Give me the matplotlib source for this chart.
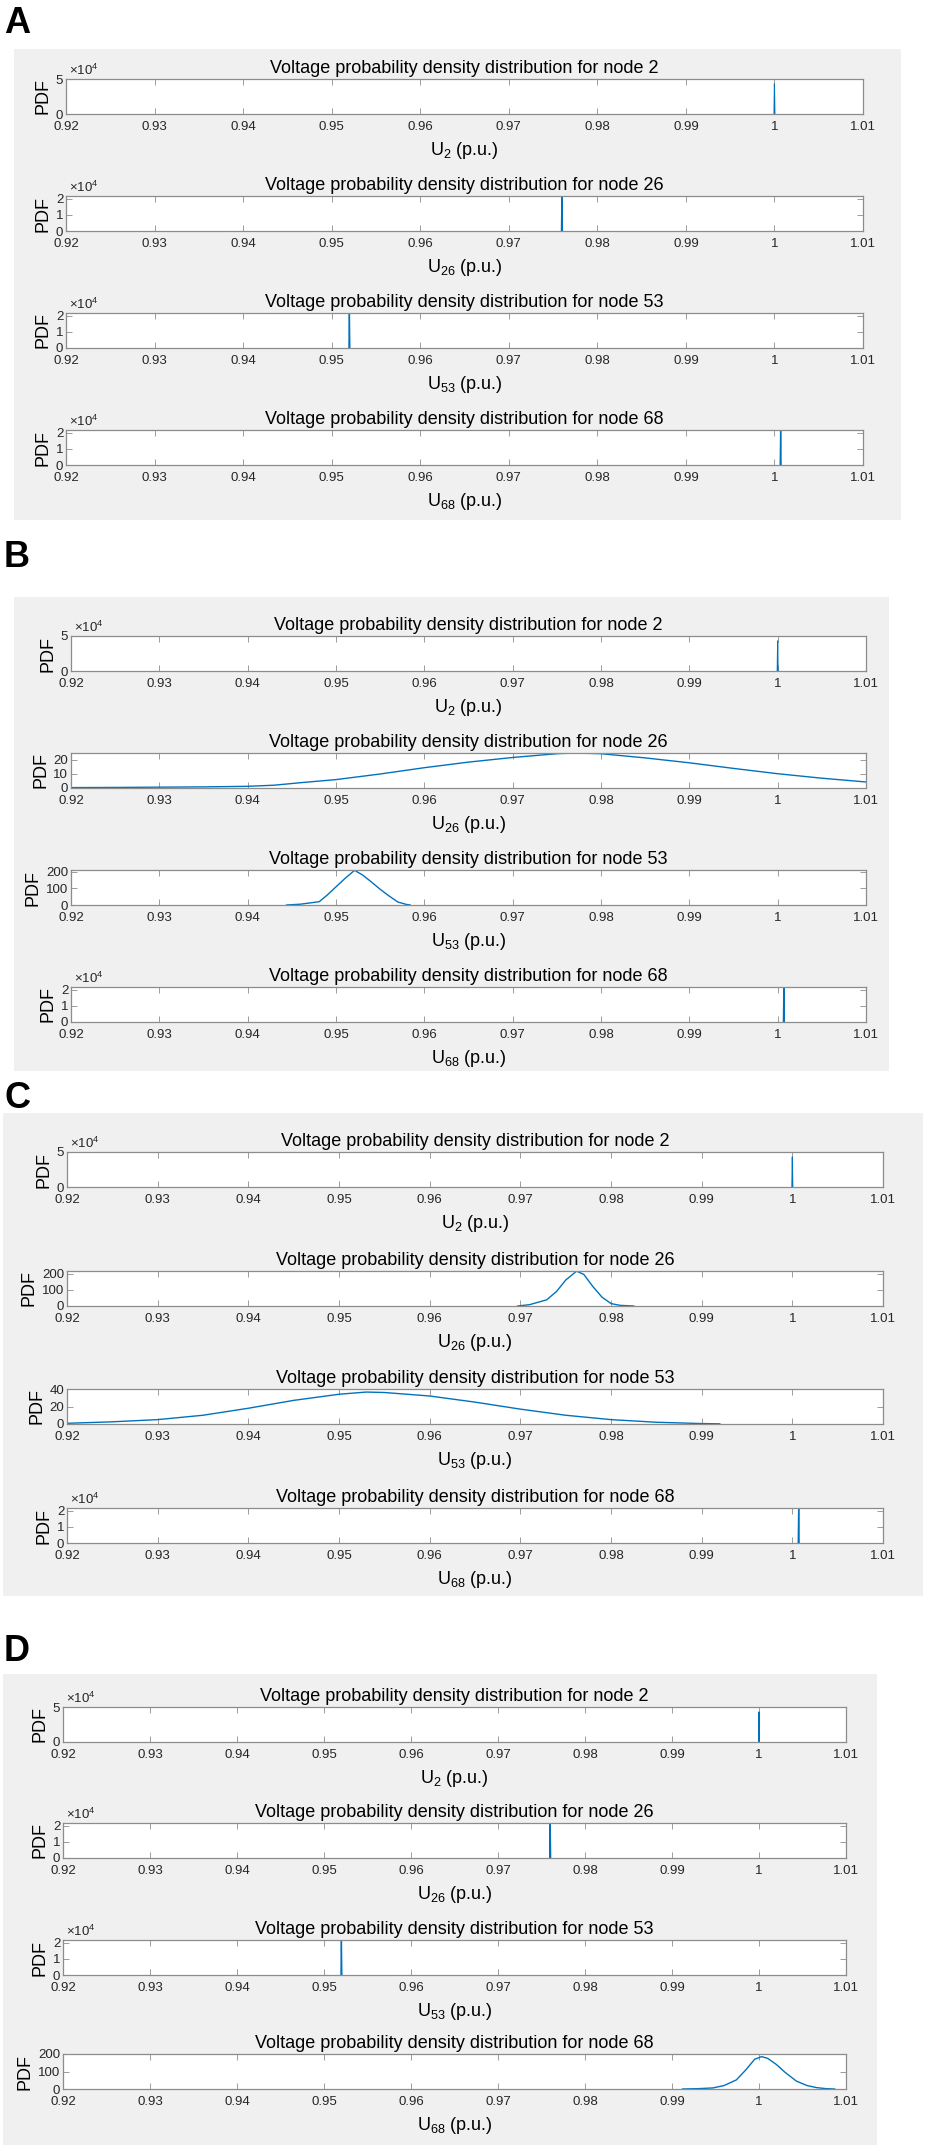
import matplotlib.pyplot as plt
from matplotlib.patches import Rectangle
from matplotlib.ticker import FuncFormatter

plt.rcParams['font.family'] = ['Liberation Sans', 'DejaVu Sans']
plt.rcParams['mathtext.fontset'] = 'custom'
plt.rcParams['mathtext.rm'] = 'Liberation Sans'
plt.rcParams['mathtext.default'] = 'regular'

# x axis
x_ticks = [0.92, 0.93, 0.94, 0.95, 0.96, 0.97, 0.98, 0.99, 1.0, 1.01]
x_tick_labels = ['0.92', '0.93', '0.94', '0.95', '0.96', '0.97', '0.98', '0.99', '1', '1.01']
nodes = [2, 26, 53, 68]

# ---- panel A : all nodes are spikes
a_n2_x = [0.99995, 1.0, 1.00005]
a_n2_y = [0, 43000, 0]
a_n26_x = [0.97595, 0.976, 0.97605]
a_n26_y = [0, 21700, 0]
a_n53_x = [0.95195, 0.952, 0.95205]
a_n53_y = [0, 21700, 0]
a_n68_x = [1.00065, 1.0007, 1.00075]
a_n68_y = [0, 21700, 0]
a_ylim = [50000, 21700, 21700, 21700]
a_yticks = [[0, 50000], [0, 10000, 20000], [0, 10000, 20000], [0, 10000, 20000]]

# ---- panel B : nodes 26 and 53 spread out
b_n2_x = [0.99995, 1.0, 1.00005]
b_n2_y = [0, 43000, 0]
b_n26_x = [0.92, 0.925, 0.93, 0.935, 0.94, 0.943, 0.946, 0.95, 0.955, 0.96, 0.965,
           0.97, 0.975, 0.977, 0.98, 0.985, 0.99, 0.995, 1.0, 1.005, 1.01]
b_n26_y = [0.3, 0.4, 0.6, 0.8, 1.2, 2.0, 3.8, 6.0, 10.0, 14.5, 18.5,
           21.8, 24.5, 25.0, 24.5, 21.5, 18.0, 14.0, 10.2, 7.0, 4.3]
b_n53_x = [0.9444, 0.946, 0.9481, 0.949, 0.950, 0.951, 0.9521, 0.953, 0.954,
           0.955, 0.956, 0.957, 0.958, 0.9584]
b_n53_y = [0, 5, 20, 60, 110, 160, 210, 182, 140, 95, 55, 18, 3, 0]
b_n68_x = [1.00065, 1.0007, 1.00075]
b_n68_y = [0, 21700, 0]
b_ylim = [50000, 25, 212, 21700]
b_yticks = [[0, 50000], [0, 10, 20], [0, 100, 200], [0, 10000, 20000]]

# ---- panel C : nodes 26 and 53 spread out
c_n2_x = [0.99995, 1.0, 1.00005]
c_n2_y = [0, 43000, 0]
c_n26_x = [0.9697, 0.971, 0.9729, 0.974, 0.975, 0.9762, 0.977, 0.978, 0.979,
           0.980, 0.981, 0.9825]
c_n26_y = [0, 8, 38, 90, 160, 215, 195, 120, 55, 15, 4, 0]
c_n53_x = [0.92, 0.925, 0.93, 0.935, 0.94, 0.945, 0.95, 0.953, 0.955, 0.96,
           0.965, 0.97, 0.975, 0.98, 0.985, 0.99, 0.992]
c_n53_y = [0.8, 2.5, 5, 10, 18, 27, 34, 36.5, 36, 32, 25, 17, 10, 5, 2, 0.5, 0.2]
c_n68_x = [1.00065, 1.0007, 1.00075]
c_n68_y = [0, 21700, 0]
c_ylim = [50000, 216, 40, 21700]
c_yticks = [[0, 50000], [0, 100, 200], [0, 20, 40], [0, 10000, 20000]]

# ---- panel D : node 68 spread out
d_n2_x = [0.99995, 1.0, 1.00005]
d_n2_y = [0, 43000, 0]
d_n26_x = [0.97595, 0.976, 0.97605]
d_n26_y = [0, 21700, 0]
d_n53_x = [0.95195, 0.952, 0.95205]
d_n53_y = [0, 21700, 0]
d_n68_x = [0.9912, 0.993, 0.9947, 0.996, 0.9974, 0.9985, 0.9995, 1.0003, 1.001,
           1.002, 1.003, 1.0043, 1.0055, 1.0066, 1.0077, 1.0087]
d_n68_y = [0, 2, 6, 20, 52, 110, 170, 185, 175, 140, 95, 45, 20, 8, 2, 0]
d_ylim = [50000, 21700, 21700, 200]
d_yticks = [[0, 50000], [0, 10000, 20000], [0, 10000, 20000], [0, 100, 200]]

W, H = 926, 2149
fig = plt.figure(figsize=(W / 100, H / 100), dpi=100)

line_color = '#0072BD'
spine_color = '#8c8c8c'


def px_rect(l, t, r, b):
    return [l / W, 1 - b / H, (r - l) / W, (b - t) / H]


# panel layout in pixels: letter, gray box, axes columns and axes tops
panels = [
    dict(letter='A', letter_y=33, box=(14, 49, 901, 520), left=66, right=863,
         tops=[79, 196, 313, 430],
         data=[(a_n2_x, a_n2_y), (a_n26_x, a_n26_y), (a_n53_x, a_n53_y), (a_n68_x, a_n68_y)],
         ylim=a_ylim, yticks=a_yticks),
    dict(letter='B', letter_y=567, box=(14, 597, 889, 1071), left=71, right=866,
         tops=[636, 753, 870, 987],
         data=[(b_n2_x, b_n2_y), (b_n26_x, b_n26_y), (b_n53_x, b_n53_y), (b_n68_x, b_n68_y)],
         ylim=b_ylim, yticks=b_yticks),
    dict(letter='C', letter_y=1108, box=(3, 1113, 923, 1596), left=67, right=883,
         tops=[1152, 1271, 1389, 1508],
         data=[(c_n2_x, c_n2_y), (c_n26_x, c_n26_y), (c_n53_x, c_n53_y), (c_n68_x, c_n68_y)],
         ylim=c_ylim, yticks=c_yticks),
    dict(letter='D', letter_y=1661, box=(3, 1674, 877, 2145), left=63, right=846,
         tops=[1707, 1823, 1940, 2054],
         data=[(d_n2_x, d_n2_y), (d_n26_x, d_n26_y), (d_n53_x, d_n53_y), (d_n68_x, d_n68_y)],
         ylim=d_ylim, yticks=d_yticks),
]

axes_h = 35

for p in panels:
    bl, bt, br, bb = p['box']
    fig.patches.append(Rectangle((bl / W, 1 - bb / H), (br - bl) / W, (bb - bt) / H,
                                 transform=fig.transFigure, facecolor='#f0f0f0',
                                 edgecolor='none', zorder=-10))
    fig.text(4 / W, 1 - p['letter_y'] / H, p['letter'], fontsize=26, fontweight='bold',
             va='baseline', ha='left')

    for i, node in enumerate(nodes):
        top = p['tops'][i]
        ax = fig.add_axes(px_rect(p['left'], top, p['right'], top + axes_h))
        ax.set_zorder(1)
        xs, ys = p['data'][i]
        # node 2 spike is drawn thinner, like the reference
        lw = 0.8 if node == 2 else 1.0
        ax.plot(xs, ys, color=line_color, linewidth=lw)
        ax.set_xlim(0.92, 1.01)
        ax.set_ylim(0, p['ylim'][i])
        ax.set_xticks(x_ticks)
        ax.set_xticklabels(x_tick_labels)
        ax.set_yticks(p['yticks'][i])
        sci = p['ylim'][i] > 1000
        if sci:
            ax.yaxis.set_major_formatter(FuncFormatter(lambda v, pos: '%g' % (v / 1e4)))
            ax.text(0.004, 1.03, r'$\times$10$^{4}$', transform=ax.transAxes,
                    fontsize=9.5, color='#262626', va='bottom', ha='left')
        else:
            ax.yaxis.set_major_formatter(FuncFormatter(lambda v, pos: '%g' % v))
        ax.tick_params(direction='in', top=True, right=True, length=4, width=0.6,
                       color=spine_color, labelsize=9.5, labelcolor='#262626')
        ax.tick_params(axis='x', pad=5)
        ax.tick_params(axis='y', pad=2)
        for s in ax.spines.values():
            s.set_color(spine_color)
            s.set_linewidth(0.9)
        ax.set_title('Voltage probability density distribution for node %d' % node,
                     fontsize=13, pad=4.5)
        ax.set_xlabel('U$_{%d}$ (p.u.)' % node, fontsize=13, labelpad=5)
        ax.set_ylabel('PDF', fontsize=13, labelpad=3)

fig.savefig('out.png', dpi=100, facecolor='white')
